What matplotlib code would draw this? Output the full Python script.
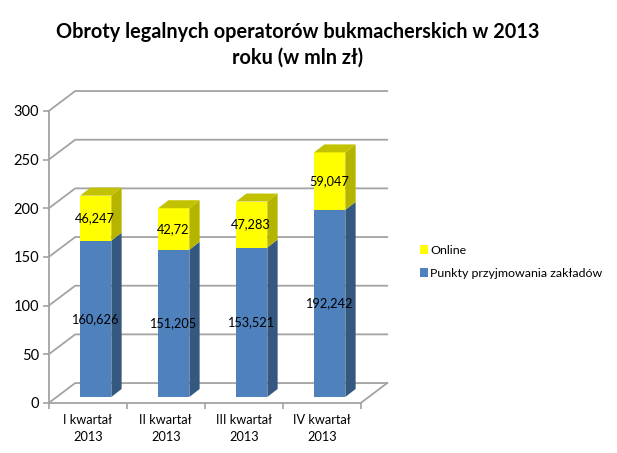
# Stacked 3D-look column chart, bookmakers' turnover per quarter
import matplotlib
matplotlib.use('Agg')
import matplotlib.pyplot as plt
from matplotlib.patches import Polygon, Patch

plt.rcParams['font.family'] = ['Lato', 'DejaVu Sans']

categories = ['I kwartał\n2013', 'II kwartał\n2013', 'III kwartał\n2013', 'IV kwartał\n2013']
punkty = [160.626, 151.205, 153.521, 192.242]
online = [46.247, 42.72, 47.283, 59.047]
y_ticks = [0, 50, 100, 150, 200, 250, 300]

W, H = 617, 453
GRID = '#a3a3a3'

fig = plt.figure(figsize=(W / 100, H / 100), dpi=100, facecolor='white')
ax = fig.add_axes([48.7 / W, 1 - 403 / H, 312 / W, 292 / H])
ax.set_xlim(-0.5, 3.5)
ax.set_ylim(0, 300)

# fake depth, in data units
wall_dx, wall_dy = 0.34, 20.5
base_dx, base_dy = 0.103, 6.2
bar_w = 0.4
side_dx, side_dy = 0.132, 8.2

# back wall grid and the left/right diagonals
for t in y_ticks:
    ax.plot([-0.5, -0.5 + wall_dx, 3.5 + wall_dx], [t, t + wall_dy, t + wall_dy],
            color=GRID, lw=1.3, clip_on=False, zorder=1)
ax.plot([3.5, 3.5 + wall_dx], [0, wall_dy], color=GRID, lw=1.3, clip_on=False, zorder=1)


def draw_segment(x, bottom, height, front, side, top=None):
    left = x + base_dx - bar_w / 2
    right = left + bar_w
    y0 = bottom + base_dy
    y1 = y0 + height
    ax.bar(left + bar_w / 2, height, bar_w, bottom=y0, color=front, clip_on=False, zorder=3)
    ax.add_patch(Polygon([(right, y0), (right + side_dx, y0 + side_dy),
                          (right + side_dx, y1 + side_dy), (right, y1)],
                         facecolor=side, edgecolor='none', clip_on=False, zorder=3))
    if top:
        ax.add_patch(Polygon([(left, y1), (left + side_dx, y1 + side_dy),
                              (right + side_dx, y1 + side_dy), (right, y1)],
                             facecolor=top, edgecolor='none', clip_on=False, zorder=3))
    label = f'{height:g}'.replace('.', ',')
    ax.text(left + bar_w / 2 - 0.01, y0 + height / 2, label, ha='center', va='center',
            fontsize=9.2, color='black', zorder=5)


for i in range(len(categories)):
    draw_segment(i, 0, punkty[i], '#4f81bd', '#34587f')
    draw_segment(i, punkty[i], online[i], '#ffff00', '#b5b500', '#c2c200')

# axes
for s in ['top', 'right']:
    ax.spines[s].set_visible(False)
for s in ['left', 'bottom']:
    ax.spines[s].set_color(GRID)
    ax.spines[s].set_linewidth(1.3)
    ax.spines[s].set_zorder(2)
ax.set_yticks(y_ticks)
ax.tick_params(axis='y', length=4, width=1.2, color=GRID, labelsize=10.5, pad=3)
ax.set_xticks(range(len(categories)))
ax.set_xticklabels(categories, fontsize=9.2, linespacing=1.5)
ax.tick_params(axis='x', which='major', length=0, pad=8)
ax.set_xticks([-0.5, 0.5, 1.5, 2.5, 3.5], minor=True)
ax.tick_params(axis='x', which='minor', length=4, width=1.2, color=GRID)

fig.text(297.5 / W, 1 - 45 / H, 'Obroty legalnych operatorów bukmacherskich w 2013\nroku (w mln zł)',
         ha='center', va='center', fontsize=14.3, fontweight='bold', linespacing=1.35)

handles = [Patch(facecolor='#ffff00', label='Online'),
           Patch(facecolor='#4f81bd', label='Punkty przyjmowania zakładów')]
fig.legend(handles=handles, loc='upper left', bbox_to_anchor=(409 / W, 1 - 234 / H), frameon=False,
           fontsize=8.9, handlelength=0.6, handleheight=0.7, handletextpad=0.2, labelspacing=0.95)

fig.savefig('out.png', dpi=100)
